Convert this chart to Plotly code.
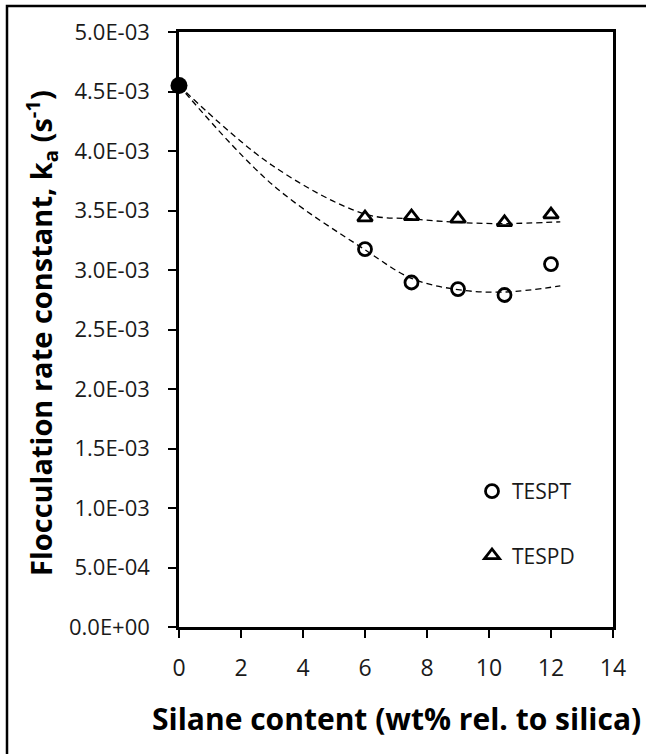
import plotly.graph_objects as go

# Data
x_ref = [0]
y_ref = [4.55e-3]
x_vals = [6, 7.5, 9, 10.5, 12]
tespt = [3.175e-3, 2.895e-3, 2.84e-3, 2.79e-3, 3.05e-3]
tespd = [3.44e-3, 3.45e-3, 3.43e-3, 3.40e-3, 3.465e-3]
# Dashed trend lines (guide to the eye)
trend_x = [0, 3, 6, 7.5, 9, 10.5, 12.3]
trend_tespt = [4.55e-3, 3.72e-3, 3.17e-3, 2.93e-3, 2.835e-3, 2.815e-3, 2.866e-3]
trend_tespd = [4.55e-3, 3.88e-3, 3.47e-3, 3.43e-3, 3.40e-3, 3.39e-3, 3.405e-3]
y_tickvals = [0, 5e-4, 1e-3, 1.5e-3, 2e-3, 2.5e-3, 3e-3, 3.5e-3, 4e-3, 4.5e-3, 5e-3]
y_ticktext = ["0.0E+00", "5.0E-04", "1.0E-03", "1.5E-03", "2.0E-03", "2.5E-03",
              "3.0E-03", "3.5E-03", "4.0E-03", "4.5E-03", "5.0E-03"]
x_tickvals = [0, 2, 4, 6, 8, 10, 12, 14]

FONT = "Open Sans"
W, H = 646, 754
L, R, T, B = 179, 646 - 613, 32, 754 - 627
PW, PH = W - L - R, H - T - B

def px_x(p):
    return (p - L) / PW

def px_y(p):
    return (H - B - p) / PH

fig = go.Figure()

for ty in (trend_tespt, trend_tespd):
    fig.add_trace(go.Scatter(x=trend_x, y=ty, mode="lines",
                             line=dict(color="black", width=1.3, dash="6px,4px",
                                       shape="spline", smoothing=1.0),
                             showlegend=False, hoverinfo="skip"))

fig.add_trace(go.Scatter(x=x_vals, y=tespt, mode="markers", name="TESPT",
                         legendgroup="a",
                         marker=dict(symbol="circle-open", size=13, color="black",
                                     line=dict(width=2.8, color="black"))))
fig.add_trace(go.Scatter(x=x_vals, y=tespd, mode="markers", name="TESPD",
                         legendgroup="b",
                         marker=dict(symbol="triangle-up-open", size=13, color="black",
                                     line=dict(width=2.8, color="black"))))
fig.add_trace(go.Scatter(x=x_ref, y=y_ref, mode="markers", showlegend=False,
                         cliponaxis=False,
                         marker=dict(symbol="circle", size=17, color="black")))

fig.update_layout(
    width=W, height=H,
    margin=dict(l=L, r=R, t=T, b=B, pad=0),
    paper_bgcolor="white", plot_bgcolor="white",
    font=dict(family=FONT, color="#1a1a1a", size=21),
    legend=dict(x=px_x(472), y=px_y(471), xanchor="left", yanchor="top",
                bgcolor="rgba(0,0,0,0)", font=dict(size=21, family=FONT, color="#1a1a1a"),
                tracegroupgap=34, traceorder="grouped", itemwidth=30),
    xaxis=dict(range=[0, 14], tickvals=x_tickvals, showgrid=False, zeroline=False,
               showline=True, linecolor="black", linewidth=2.5, mirror=True,
               ticks="outside", ticklen=8, tickwidth=1.5, tickcolor="black",
               ticklabelstandoff=11,
               tickfont=dict(size=23, family=FONT, color="#1a1a1a")),
    yaxis=dict(range=[0, 5e-3], tickvals=y_tickvals, ticktext=y_ticktext,
               showgrid=False, zeroline=False,
               showline=True, linecolor="black", linewidth=2.5, mirror=True,
               ticks="outside", ticklen=8, tickwidth=1.5, tickcolor="black",
               ticklabelstandoff=14,
               tickfont=dict(size=22, family=FONT, color="#1a1a1a")),
    annotations=[
        dict(text="<b>Silane content (wt% rel. to silica)</b>", xref="paper", yref="paper",
             x=px_x(396), y=px_y(719), xanchor="center", yanchor="middle",
             showarrow=False, font=dict(size=30, family=FONT, color="black")),
        dict(text="<b>Flocculation rate constant, k<sub>a</sub> (s<sup>-1</sup>)</b>",
             xref="paper", yref="paper",
             x=px_x(41), y=px_y(333), xanchor="center", yanchor="middle",
             textangle=-90, showarrow=False,
             font=dict(size=29, family=FONT, color="black")),
    ],
    shapes=[dict(type="rect", xref="paper", yref="paper",
                 x0=px_x(7), x1=px_x(660),
                 y0=px_y(770), y1=px_y(6),
                 line=dict(color="black", width=2.5))],
)

fig.write_html("out.html", config={"displayModeBar": False},
               post_script="document.body.style.margin='0';")
